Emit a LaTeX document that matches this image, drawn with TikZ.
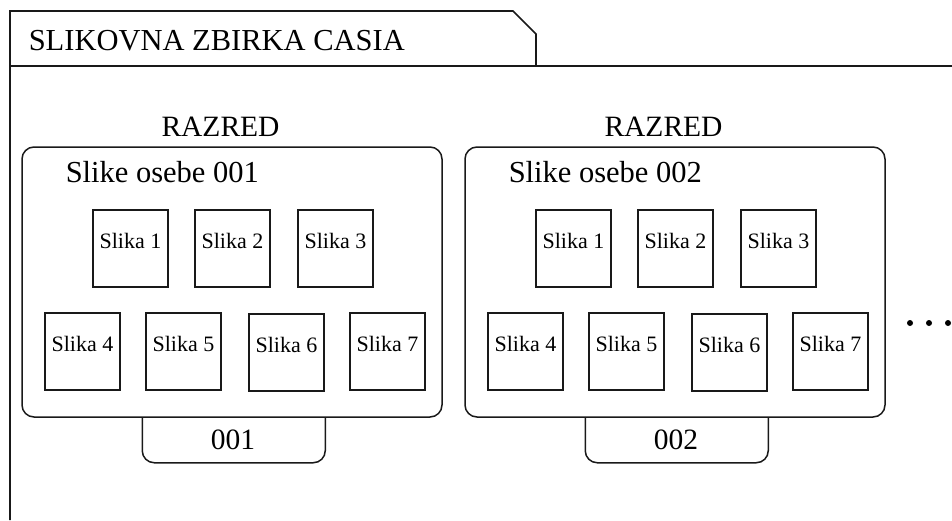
\documentclass[tikz,border=0pt]{standalone}
\usepackage{fontspec}
\setmainfont{Liberation Serif}
\begin{document}
\begin{tikzpicture}[x=1pt, y=-1pt, line width=1.5pt,
  frameline/.style={draw=black!90, line width=1.6pt},
  groupbox/.style={draw=black!90, rounded corners=12pt, minimum width=420pt,
    minimum height=270pt, inner sep=0pt},
  picbox/.style={draw=black!90, minimum width=75pt, minimum height=77pt,
    inner sep=0pt, text height=15pt, text depth=15pt,
    font=\fontsize{22}{26}\selectfont},
  bigtext/.style={inner sep=0pt, font=\fontsize{29.5}{34}\selectfont},
  dot/.style={circle, fill=black, inner sep=0pt, minimum size=6pt}]
\useasboundingbox (0,0) rectangle (952,520);

% package frame with its name tab
\draw[frameline] (10,520) -- (10,11) -- (513,11) -- (536,34) -- (536,66);
\draw[frameline] (10,66) -- (952,66);
\node[inner sep=0pt, font=\fontsize{30.5}{36}\selectfont, anchor=base west]
  (title) at (28,50) {SLIKOVNA ZBIRKA CASIA};

% one class per person
\foreach \g/\dx/\id in {1/0/001, 2/443/002} {
  \node[bigtext, anchor=base] (cls\g) at (220.5+\dx,136) {RAZRED};
  \node[groupbox] (grp\g) at (232+\dx,282) {};
  \node[bigtext, anchor=base west, font=\fontsize{30.5}{36}\selectfont]
    (head\g) at (65+\dx,182) {Slike osebe \id};
  % images, first row
  \node[picbox] (p\g-1) at (130.5+\dx,248.5) {Slika 1};
  \node[picbox] (p\g-2) at (232.5+\dx,248.5) {Slika 2};
  \node[picbox] (p\g-3) at (335.5+\dx,248.5) {Slika 3};
  % images, second row
  \node[picbox] (p\g-4) at (82.5+\dx,351.5) {Slika 4};
  \node[picbox] (p\g-5) at (183.5+\dx,351.5) {Slika 5};
  \node[picbox] (p\g-6) at (286.5+\dx,352.5) {Slika 6};
  \node[picbox] (p\g-7) at (387.5+\dx,351.5) {Slika 7};
  % label tab under the class
  \draw[draw=black!90, rounded corners=12pt]
    ([xshift=121pt]grp\g.south west) -- ++(0,45) -- ++(183,0) -- ++(0,-45);
  \node[bigtext, anchor=base] (lbl\g) at (233+\dx,449) {\id};
}

% more classes follow
\node[dot] (d1) at (910,323) {};
\node[dot] (d2) at (929,323) {};
\node[dot] (d3) at (948,323) {};
\end{tikzpicture}
\end{document}
